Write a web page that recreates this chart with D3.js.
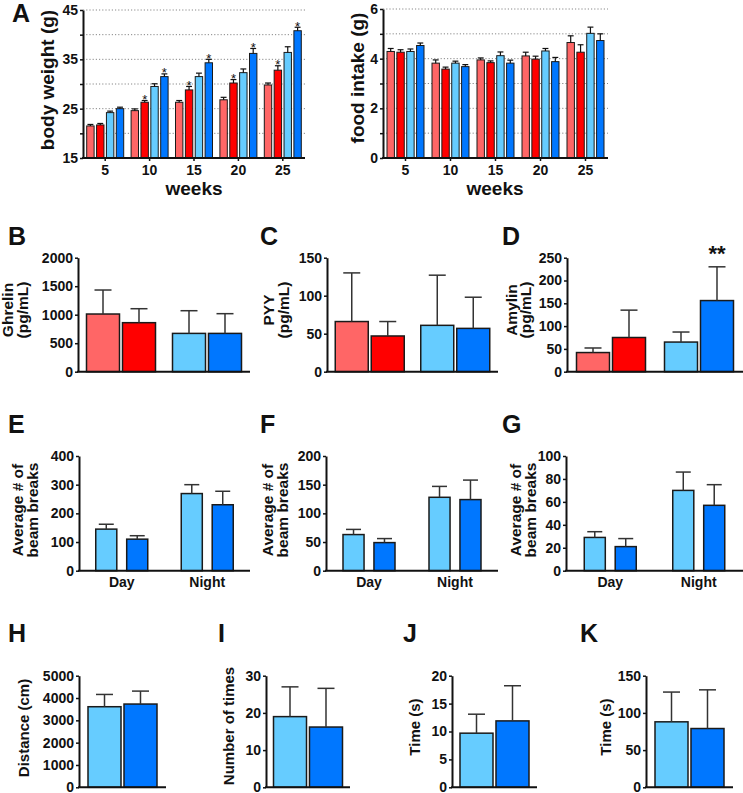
<!DOCTYPE html>
<html><head><meta charset="utf-8">
<script src="https://cdn.jsdelivr.net/npm/d3@7/dist/d3.min.js"></script>
<style>
body{margin:0;background:#fff}
svg{display:block}
text{font-family:Arial,"Liberation Sans",Helvetica,sans-serif;font-weight:bold;fill:#111}
</style>
</head><body>
<svg id="c" width="743" height="793"></svg>
<script>
// ---------- data ----------
const seriesColors = ["#FF6666", "#FF0000", "#66CCFF", "#0077FF"];
const blueColors = ["#66CCFF", "#0077FF"];
const weeks = ["5", "10", "15", "20", "25"];
// body weight (g) per week: [light red, red, light blue, blue]
const bwMean = [[21.5, 21.7, 24.2, 25.0], [24.6, 26.3, 29.5, 31.5], [26.3, 28.8, 31.5, 34.3], [26.8, 30.2, 32.3, 36.2], [29.8, 32.8, 36.4, 40.8]];
const bwErr  = [[0.3, 0.3, 0.3, 0.3], [0.35, 0.35, 0.55, 0.55], [0.35, 0.7, 0.7, 0.7], [0.5, 0.7, 0.75, 1.0], [0.4, 0.9, 1.15, 0.7]];
const bwStars = [[0, 0, 0, 0], [0, 1, 0, 1], [0, 1, 0, 1], [0, 1, 0, 1], [0, 1, 0, 1]];
// food intake (g)
const fiMean = [[4.29, 4.26, 4.29, 4.53], [3.82, 3.58, 3.82, 3.68], [3.95, 3.84, 4.12, 3.82], [4.11, 3.98, 4.31, 3.88], [4.65, 4.26, 5.02, 4.73]];
const fiErr  = [[0.12, 0.1, 0.1, 0.1], [0.13, 0.08, 0.08, 0.08], [0.08, 0.07, 0.15, 0.12], [0.15, 0.12, 0.1, 0.17], [0.27, 0.3, 0.25, 0.27]];
// hormones
const ghrelinMean = [1012, 860, 672, 672], ghrelinErr = [421, 245, 398, 346];
const pyyMean = [66, 47, 61, 57], pyyErr = [64, 19, 66, 41];
const amylinMean = [42, 75, 65, 156], amylinErr = [10, 60, 22, 74];
// beam breaks (Day, Night) x (light blue, blue)
const dayNight = ["Day", "Night"];
const eMean = [[145, 110], [269, 230]], eErr = [[17, 12], [31, 47]];
const fMean = [[63, 49], [128, 124]], fErr = [[9, 7], [19, 34]];
const gMean = [[29, 21], [70, 57]], gErr = [[5, 7], [16, 18]];
// H-K
const hMean = [3610, 3730], hErr = [550, 580];
const iMean = [19.0, 16.2], iErr = [8.0, 10.4];
const jMean = [9.7, 11.9], jErr = [3.4, 6.3];
const kMean = [88, 79], kErr = [40, 52];

const svg = d3.select("#c");

function panel(c) {
  const g = svg.append("g");
  const y = d3.scaleLinear().domain([c.min, c.max]).range([c.bottom, c.top]);
  const x0 = d3.scaleBand().domain(d3.range(c.groups.length)).range([c.L, c.R]);
  const n = c.groups[0].values.length;
  const x1 = d3.scaleBand().domain(d3.range(n)).range([0, c.innerW]).paddingInner(c.pad);
  const bx = (gi, i) => x0(gi) + x0.bandwidth() / 2 - c.innerW / 2 + x1(i);
  // grid
  if (c.grid) {
    c.grid.forEach(v => {
      g.append("line").attr("x1", c.L).attr("x2", c.R).attr("y1", y(v)).attr("y2", y(v))
        .attr("stroke", "#888").attr("stroke-width", 1).attr("stroke-dasharray", "1.2,2");
    });
  }
  // bars
  c.groups.forEach((grp, gi) => {
    grp.values.forEach((v, i) => {
      const xx = bx(gi, i), bw = x1.bandwidth();
      const e = grp.errs[i];
      const cx = xx + bw / 2;
      const capW = c.capW != null ? c.capW : bw * 0.8;
      g.append("rect").attr("x", xx).attr("y", y(v)).attr("width", bw).attr("height", y(c.min) - y(v))
        .attr("fill", grp.colors[i]).attr("stroke", "#1a1a1a").attr("stroke-width", c.barStroke);
      g.append("line").attr("x1", cx).attr("x2", cx).attr("y1", y(v)).attr("y2", y(v + e))
        .attr("stroke", c.errColor).attr("stroke-width", c.errW);
      g.append("line").attr("x1", cx - capW / 2).attr("x2", cx + capW / 2).attr("y1", y(v + e)).attr("y2", y(v + e))
        .attr("stroke", c.errColor).attr("stroke-width", c.errW);
      if (grp.stars && grp.stars[i]) {
        g.append("text").attr("x", cx).attr("y", y(v + e) + c.starDy).attr("text-anchor", "middle")
          .attr("font-size", c.starSize).style("font-weight", c.starWeight).text(grp.stars[i]);
      }
    });
  });
  // y axis
  const ax = g.append("g").attr("transform", `translate(${c.L},0)`)
    .call(d3.axisLeft(y).tickValues(c.ticks).tickFormat(c.fmt || (d => d)).tickSize(3).tickSizeOuter(0).tickPadding(2));
  ax.select(".domain").attr("stroke", "#111").attr("stroke-width", 2);
  ax.selectAll(".tick line").attr("stroke", "#111").attr("stroke-width", 1.5);
  ax.selectAll(".tick text").attr("font-size", c.tickSize).attr("font-family", null).style("fill", "#111");
  // x baseline
  g.append("line").attr("x1", c.L - 1).attr("x2", c.R).attr("y1", c.bottom).attr("y2", c.bottom)
    .attr("stroke", "#111").attr("stroke-width", 2);
  // x labels
  if (c.xLabels) {
    c.xLabels.forEach((lab, gi) => {
      const cx = x0(gi) + x0.bandwidth() / 2;
      if (c.xTicks) g.append("line").attr("x1", cx).attr("x2", cx).attr("y1", c.bottom).attr("y2", c.bottom + 3).attr("stroke", "#111").attr("stroke-width", 1.5);
      g.append("text").attr("x", cx).attr("y", c.xLabelY).attr("text-anchor", "middle").attr("font-size", c.xLabelSize).text(lab);
    });
  }
  // y titles
  c.yTitle.forEach(t => {
    g.append("text").attr("transform", `translate(${t[1]},${t[2]}) rotate(-90)`).attr("text-anchor", "middle")
      .attr("font-size", c.titleSize).text(t[0]);
  });
  if (c.xTitle) {
    g.append("text").attr("x", c.xTitle[1]).attr("y", c.xTitle[2]).attr("text-anchor", "middle").attr("font-size", 19).text(c.xTitle[0]);
  }
  if (c.letter) {
    svg.append("text").attr("x", c.letter[1]).attr("y", c.letter[2]).attr("font-size", 25).text(c.letter[0]);
  }
  return {x0, y};
}

const common = {barStroke: 1.5, errColor: "#333", errW: 1.5, tickSize: 14, titleSize: 15.5, starSize: 22, starDy: 0, starWeight: "bold"};

// ---- Panel A ----
const aCommon = {barStroke: 1, errColor: "#111", errW: 1.2, tickSize: 14, titleSize: 19, innerW: 37, pad: 0.25,
  starSize: 13, starDy: 3.5, starWeight: "normal", xLabelY: 175, xLabelSize: 14, xTicks: true, xLabels: weeks};
panel(Object.assign({}, aCommon, {
  L: 83, R: 305, top: 10, bottom: 158, min: 15, max: 45,
  ticks: [15, 20, 25, 30, 35, 40, 45], fmt: d => (d % 10 === 5 ? d : ""),
  grid: [20, 25, 30, 35, 40, 45],
  groups: weeks.map((w, i) => ({values: bwMean[i], errs: bwErr[i], colors: seriesColors, stars: bwStars[i].map(s => s ? "*" : "")})),
  yTitle: [["body weight (g)", 54, 80]], xTitle: ["weeks", 194, 195], letter: ["A", 12, 22]
}));
panel(Object.assign({}, aCommon, {
  L: 383, R: 608, top: 9, bottom: 158, min: 0, max: 6,
  ticks: [0, 1, 2, 3, 4, 5, 6], fmt: d => (d % 2 === 0 ? d : ""),
  grid: [1, 2, 3, 4, 5, 6],
  groups: weeks.map((w, i) => ({values: fiMean[i], errs: fiErr[i], colors: seriesColors})),
  yTitle: [["food intake (g)", 364, 78]], xTitle: ["weeks", 495, 195]
}));

// ---- Row B-D ----
const hormoneRow = Object.assign({}, common, {top: 257.7, bottom: 371.7, min: 0, innerW: 69, pad: 0.083, capW: 17});
panel(Object.assign({}, hormoneRow, {
  L: 78, R: 250, max: 2000, ticks: [0, 500, 1000, 1500, 2000],
  groups: [{values: ghrelinMean.slice(0, 2), errs: ghrelinErr.slice(0, 2), colors: seriesColors.slice(0, 2)},
           {values: ghrelinMean.slice(2), errs: ghrelinErr.slice(2), colors: seriesColors.slice(2)}],
  yTitle: [["Ghrelin", 13, 310], ["(pg/mL)", 28, 310]], letter: ["B", 8, 245]
}));
panel(Object.assign({}, hormoneRow, {
  L: 327, R: 498, max: 150, ticks: [0, 50, 100, 150],
  groups: [{values: pyyMean.slice(0, 2), errs: pyyErr.slice(0, 2), colors: seriesColors.slice(0, 2)},
           {values: pyyMean.slice(2), errs: pyyErr.slice(2), colors: seriesColors.slice(2)}],
  yTitle: [["PYY", 274, 310], ["(pg/mL)", 289, 310]], letter: ["C", 260, 245]
}));
panel(Object.assign({}, hormoneRow, {
  L: 567, R: 743, max: 250, ticks: [0, 50, 100, 150, 200, 250],
  groups: [{values: amylinMean.slice(0, 2), errs: amylinErr.slice(0, 2), colors: seriesColors.slice(0, 2)},
           {values: amylinMean.slice(2), errs: amylinErr.slice(2), colors: seriesColors.slice(2), stars: ["", "**"]}],
  starDy: -6,
  yTitle: [["Amylin", 517, 310], ["(pg/mL)", 531, 310]], letter: ["D", 502, 245]
}));

// ---- Row E-G ----
const beamRow = Object.assign({}, common, {top: 456, bottom: 570.7, min: 0, innerW: 52, pad: 0.32, capW: 15,
  xLabels: dayNight, xLabelY: 587, xLabelSize: 14});
const dn = (m, e) => dayNight.map((d, i) => ({values: m[i], errs: e[i], colors: blueColors}));
panel(Object.assign({}, beamRow, {
  L: 79, R: 250, max: 400, ticks: [0, 100, 200, 300, 400], groups: dn(eMean, eErr),
  yTitle: [["Average # of", 23, 510], ["beam breaks", 38, 510]], letter: ["E", 8, 433]
}));
panel(Object.assign({}, beamRow, {
  L: 326, R: 498, max: 200, ticks: [0, 50, 100, 150, 200], groups: dn(fMean, fErr),
  yTitle: [["Average # of", 273, 510], ["beam breaks", 288, 510]], letter: ["F", 260, 433]
}));
panel(Object.assign({}, beamRow, {
  L: 566, R: 743, max: 100, ticks: [0, 20, 40, 60, 80, 100], groups: dn(gMean, gErr),
  yTitle: [["Average # of", 521, 510], ["beam breaks", 536, 510]], letter: ["G", 502, 433]
}));

// ---- Row H-K ----
const lastRow = Object.assign({}, common, {top: 675.7, bottom: 787.3, min: 0, innerW: 69, pad: 0.083, capW: 17, titleSize: 15});
const one = (m, e) => [{values: m, errs: e, colors: blueColors}];
panel(Object.assign({}, lastRow, {
  L: 79, R: 166, max: 5000, ticks: [0, 1000, 2000, 3000, 4000, 5000], groups: one(hMean, hErr),
  yTitle: [["Distance (cm)", 29, 728]], letter: ["H", 8, 642]
}));
panel(Object.assign({}, lastRow, {
  L: 266, R: 350, max: 30, ticks: [0, 10, 20, 30], groups: one(iMean, iErr),
  yTitle: [["Number of times", 234, 726]], letter: ["I", 218, 642]
}));
panel(Object.assign({}, lastRow, {
  L: 452, R: 537, max: 20, ticks: [0, 5, 10, 15, 20], groups: one(jMean, jErr),
  yTitle: [["Time (s)", 420, 727]], letter: ["J", 403, 642]
}));
panel(Object.assign({}, lastRow, {
  L: 646, R: 733, max: 150, ticks: [0, 50, 100, 150], groups: one(kMean, kErr),
  yTitle: [["Time (s)", 611, 727]], letter: ["K", 580, 642]
}));
</script>
</body></html>
